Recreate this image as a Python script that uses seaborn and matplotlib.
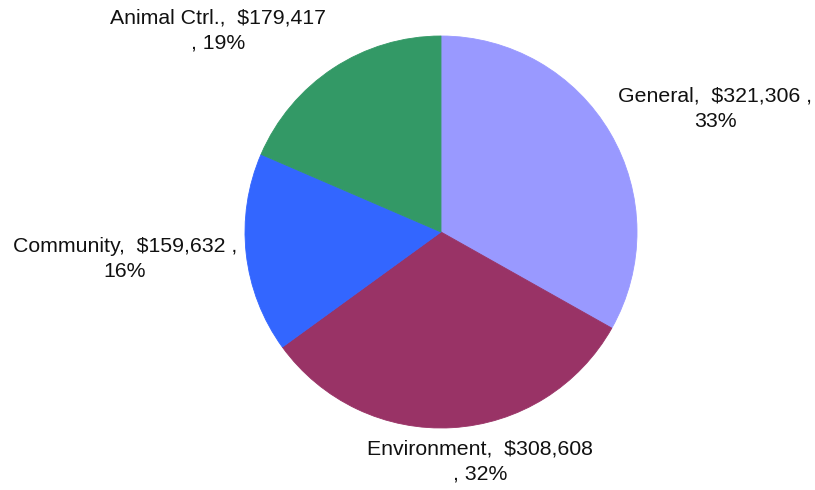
import matplotlib
matplotlib.use("Agg")
import matplotlib.pyplot as plt
import seaborn as sns

# Budget by program
categories = ["General", "Environment", "Community", "Animal Ctrl."]
amounts = [321306, 308608, 159632, 179417]
slice_colors = ["#9999FF", "#993366", "#3366FF", "#339966"]
# whether the second line of a label starts with the trailing comma
comma_on_second_line = [False, True, False, True]

# label centres, in units of the pie radius
label_centers = [(1.398, 0.628), (0.199, -1.173), (-1.612, -0.138), (-1.138, 1.026)]

sns.set_theme(style="white")
plt.rcParams["font.family"] = ["Liberation Sans", "DejaVu Sans"]

W, H, DPI = 815, 490, 100
fig = plt.figure(figsize=(W / DPI, H / DPI), dpi=DPI)
ax = fig.add_axes([0, 0, 1, 1])

palette = sns.color_palette(slice_colors)
wedges, _ = ax.pie(
    amounts,
    colors=palette,
    startangle=90,
    counterclock=False,
    radius=1.0,
    wedgeprops=dict(linewidth=0),
)
# thin outline in each slice's own colour to close anti-aliasing seams
for w, c in zip(wedges, palette):
    w.set_edgecolor(c)
    w.set_linewidth(0.6)

total = sum(amounts)
for name, val, brk, (lx, ly) in zip(categories, amounts, comma_on_second_line, label_centers):
    pct = round(100 * val / total)
    if brk:
        txt = f"{name},  ${val:,}\n, {pct}%"
    else:
        txt = f"{name},  ${val:,} ,\n{pct}%"
    ax.text(lx, ly, txt, ha="center", va="center", fontsize=15.3,
            linespacing=1.4, color="#111111")

# pie centre at (441, 232) px, radius 196 px
cx, cy, r = 441, 232, 196
ax.set_xlim(-cx / r, (W - cx) / r)
ax.set_ylim(-(H - cy) / r, cy / r)
ax.set_aspect("auto")
ax.axis("off")

fig.savefig("out.png", dpi=DPI, facecolor="white")
